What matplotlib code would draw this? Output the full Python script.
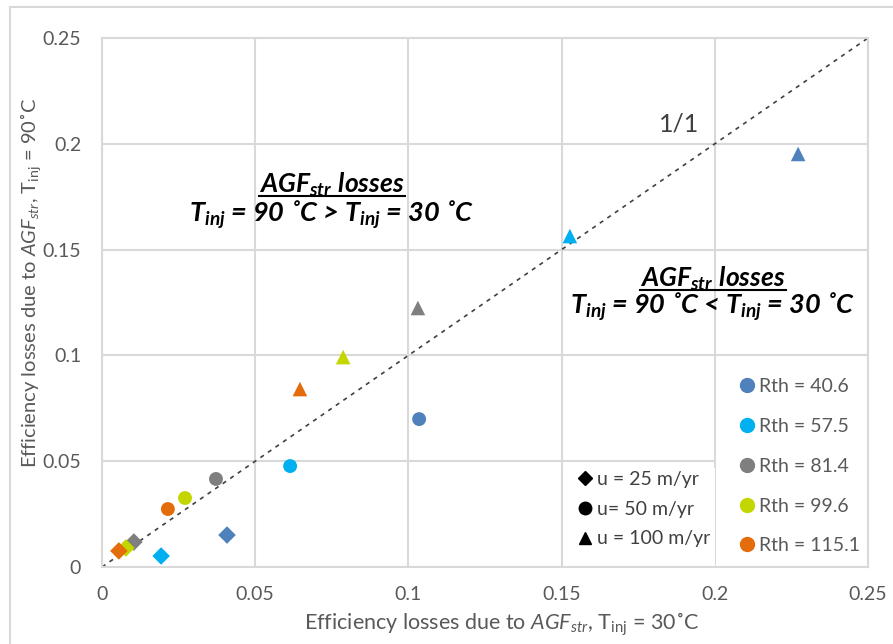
import matplotlib
matplotlib.use("Agg")
import matplotlib.pyplot as plt
from matplotlib.lines import Line2D
from matplotlib.patches import Rectangle

# data
rth_labels = ["Rth = 40.6", "Rth = 57.5", "Rth = 81.4", "Rth = 99.6", "Rth = 115.1"]
rth_colors = ["#4F81BD", "#00B0F0", "#7F7F7F", "#C4D600", "#E46C0A"]

u_labels = ["u = 25 m/yr", "u= 50 m/yr", "u = 100 m/yr"]
u_markers = ["D", "o", "^"]

# x = losses at Tinj 30C, y = losses at Tinj 90C, one list per velocity
x_u25 = [0.0408, 0.0193, 0.0104, 0.0078, 0.0055]
y_u25 = [0.0151, 0.0052, 0.0118, 0.0090, 0.0076]
x_u50 = [0.1035, 0.0614, 0.0372, 0.0271, 0.0215]
y_u50 = [0.0699, 0.0477, 0.0416, 0.0326, 0.0274]
x_u100 = [0.2272, 0.1527, 0.1031, 0.0787, 0.0646]
y_u100 = [0.1952, 0.1564, 0.1224, 0.0992, 0.0841]

ticks = [0, 0.05, 0.1, 0.15, 0.2, 0.25]
tick_labels = ["0", "0.05", "0.1", "0.15", "0.2", "0.25"]

plt.rcParams['font.family'] = ['Lato', 'DejaVu Sans']
plt.rcParams['mathtext.fontset'] = 'custom'
plt.rcParams['mathtext.rm'] = 'Lato'
plt.rcParams['mathtext.it'] = 'Lato:italic'
plt.rcParams['mathtext.bf'] = 'Lato:bold'
plt.rcParams['mathtext.bfit'] = 'Lato:bold:italic'

fig = plt.figure(figsize=(8.93, 6.44), dpi=100)
ax = fig.add_axes([102/893, 1-567/644, 766/893, 529/644])

grid_col = "#D9D9D9"
text_col = "#595959"

# outer chart frame
fig.patches.append(Rectangle((10/893, -0.1), 1.2, 1.1 - 7/644, transform=fig.transFigure,
                             fill=False, edgecolor=grid_col, lw=1.5, zorder=0))

ax.set_xlim(0, 0.25)
ax.set_ylim(0, 0.25)
ax.set_xticks(ticks)
ax.set_xticklabels(tick_labels)
ax.set_yticks(ticks)
ax.set_yticklabels(tick_labels)
ax.grid(True, color=grid_col, lw=1.5)
ax.set_axisbelow(True)
for s in ax.spines.values():
    s.set_color(grid_col)
    s.set_linewidth(1.5)
ax.tick_params(length=0, colors=text_col, labelsize=14)
ax.tick_params(axis="x", pad=14)
ax.tick_params(axis="y", pad=15)

# 1/1 line
ax.plot([0, 0.25], [0, 0.25], color="#404040", ls=(0, (2.5, 3)), lw=1.2, zorder=2)
ax.text(0.1882, 0.2056, "1/1", fontsize=18, color="#404040", ha="center", va="baseline")

series = [(x_u25, y_u25, "D", 80), (x_u50, y_u50, "o", 100), (x_u100, y_u100, "^", 110)]
for xs, ys, mk, sz in series:
    for xi, yi, c in zip(xs, ys, rth_colors):
        ax.scatter(xi, yi, marker=mk, s=sz, color=c, edgecolors="none", zorder=3)

ax.set_xlabel(r"Efficiency losses due to $\mathit{AGF_{str}}$, T$_{\mathrm{inj}}$ = 30˚C",
              fontsize=15.5, color=text_col)
ax.xaxis.set_label_coords(0.5215, -0.083)
ax.set_ylabel(r"Efficiency losses due to $\mathit{AGF_{str}}$, T$_{\mathrm{inj}}$ = 90˚C",
              fontsize=14.5, color=text_col)
ax.yaxis.set_label_coords(-0.077, 0.537)

# region annotations
heads = []
for cx, y1, y2, sign in [(0.075, 0.1767, 0.163, ">"), (0.1994, 0.1323, 0.1195, "<")]:
    heads.append(ax.text(cx, y1, r"$\mathbfit{AGF_{str}\ losses}$", fontsize=19,
                         ha="center", va="baseline"))
    ax.text(cx, y2, r"$\mathbfit{T_{inj}}$ = 90 ˚C " + sign + r" $\mathbfit{T_{inj}}$ = 30 ˚C",
            fontsize=19.5, ha="center", va="baseline", fontweight="bold", style="italic")

# white boxes behind the two legends (they hide the gridlines)
ax.add_patch(Rectangle((0.2005, 0), 0.0495, 0.0955, facecolor="white", edgecolor="none", zorder=1))
ax.add_patch(Rectangle((0.1505, 0), 0.0495, 0.047, facecolor="white", edgecolor="none", zorder=1))

# legends
rth_handles = [Line2D([], [], marker="o", ls="none", color=c, markersize=10) for c in rth_colors]
leg1 = ax.legend(rth_handles, rth_labels, loc="lower left", bbox_to_anchor=(0.834, 0.024),
                 frameon=False, fontsize=14, labelspacing=1.17, handlelength=0.6,
                 handletextpad=0.32, borderpad=0, borderaxespad=0, labelcolor=text_col)
ax.add_artist(leg1)

u_handles = [Line2D([], [], marker=m, ls="none", color="black", markersize=9 if m != "D" else 7)
             for m in u_markers]
leg2 = ax.legend(u_handles, u_labels, loc="lower left", bbox_to_anchor=(0.623, 0.037),
                 frameon=False, fontsize=14, labelspacing=0.65, handlelength=0.6,
                 handletextpad=0.31, borderpad=0, borderaxespad=0, labelcolor="#404040")

# underline the "AGF_str losses" headings just under the baseline
fig.canvas.draw()
r = fig.canvas.get_renderer()
for t in heads:
    bb = t.get_window_extent(r)
    base = ax.transData.transform(t.get_position())[1]
    yline = (base - 2.5) / fig.bbox.height
    fig.add_artist(Line2D([bb.x0 / fig.bbox.width, bb.x1 / fig.bbox.width], [yline, yline],
                          transform=fig.transFigure, color="black", lw=1.5))

fig.savefig("out.png", dpi=100)
